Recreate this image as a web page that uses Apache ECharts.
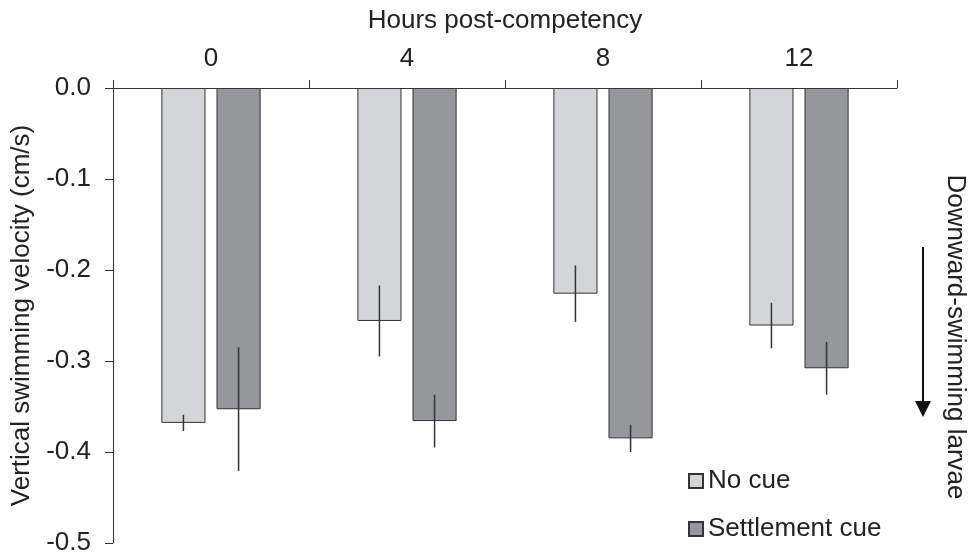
<!DOCTYPE html>
<html>
<head>
<meta charset="utf-8">
<script src="https://cdn.jsdelivr.net/npm/echarts@6/dist/echarts.min.js"></script>
<style>html,body{margin:0;padding:0;background:#fff}#c{width:974px;height:559px}</style>
</head>
<body>
<div id="c"></div>
<script>
var categories = ['0', '4', '8', '12'];
var noCue = [-0.368, -0.256, -0.226, -0.261];
var noCueErr = [0.009, 0.039, 0.031, 0.025];
var settle = [-0.353, -0.366, -0.385, -0.308];
var settleErr = [0.068, 0.029, 0.015, 0.029];
var yTicks = [0, -0.1, -0.2, -0.3, -0.4, -0.5];
var sideNote = 'Downward-swimming larvae';

var BAR_W = 0.225, GAP = 0.25;
var FONT = 'Liberation Sans, Arial, sans-serif';
var TXT = '#222';

function errData(vals, errs) {
  return vals.map(function (v, i) { return [i, v, errs[i]]; });
}
function errSeries(name, vals, errs, sign) {
  return {
    type: 'custom', name: name + ' err', silent: true, z: 5,
    data: errData(vals, errs),
    encode: { x: 0, y: 1 },
    renderItem: function (params, api) {
      var x = api.value(0), v = api.value(1), e = api.value(2);
      var band = api.size([1, 0])[0];
      var off = sign * band * BAR_W * (1 + GAP) / 2;
      var p1 = api.coord([x, v + e]);
      var p2 = api.coord([x, v - e]);
      return {
        type: 'line',
        shape: { x1: p1[0] + off, y1: p1[1], x2: p2[0] + off, y2: p2[1] },
        style: { stroke: '#333', lineWidth: 1.5 }
      };
    }
  };
}

var chart = echarts.init(document.getElementById('c'));
chart.setOption({
  animation: false,
  backgroundColor: '#fff',
  textStyle: { fontFamily: FONT, color: TXT },
  grid: { left: 113, right: 77, top: 88, bottom: 16, containLabel: false, outerBoundsMode: 'none' },
  legend: {
    orient: 'vertical', left: 683, top: 463,
    itemWidth: 14, itemHeight: 14, itemGap: 22,
    icon: 'rect',
    data: ['No cue', 'Settlement cue'],
    textStyle: { fontSize: 26, color: TXT, fontFamily: FONT, lineHeight: 26 }
  },
  xAxis: {
    type: 'category', data: categories, position: 'top',
    name: 'Hours post-competency', nameLocation: 'middle', nameGap: 54,
    nameTextStyle: { fontSize: 26, color: TXT, fontFamily: FONT },
    axisLine: { onZero: false, lineStyle: { color: '#333', width: 1 } },
    axisTick: { show: true, alignWithLabel: false, inside: false, length: 8, lineStyle: { color: '#333' } },
    axisLabel: { fontSize: 26, color: TXT, margin: 16, fontFamily: FONT },
    splitLine: { show: false }
  },
  yAxis: {
    type: 'value', min: -0.5, max: 0, interval: 0.1,
    name: 'Vertical swimming velocity (cm/s)', nameLocation: 'middle', nameGap: 70,
    nameTextStyle: { fontSize: 26, color: TXT, fontFamily: FONT },
    axisLine: { show: true, lineStyle: { color: '#333', width: 1 } },
    axisTick: { show: true, inside: false, length: 8, lineStyle: { color: '#333' } },
    axisLabel: {
      fontSize: 26, color: TXT, margin: 22, fontFamily: FONT,
      formatter: function (v) { return v.toFixed(1); }
    },
    splitLine: { show: false }
  },
  series: [{
    type: 'bar', name: 'No cue', data: noCue,
    barWidth: (BAR_W * 100) + '%', barGap: (GAP * 100) + '%',
    itemStyle: { color: '#d4d5d7', borderColor: '#333', borderWidth: 1 }
  }, {
    type: 'bar', name: 'Settlement cue', data: settle,
    barWidth: (BAR_W * 100) + '%', barGap: (GAP * 100) + '%',
    itemStyle: { color: '#96979a', borderColor: '#333', borderWidth: 1 }
  },
  errSeries('No cue', noCue, noCueErr, -1),
  errSeries('Settlement cue', settle, settleErr, 1)
  ],
  graphic: [{
    type: 'text', x: 955, y: 337, rotation: -Math.PI / 2,
    style: { text: sideNote, fontSize: 26, fontFamily: FONT, fill: TXT, align: 'center', verticalAlign: 'middle' }
  }, {
    type: 'line', shape: { x1: 923, y1: 247, x2: 923, y2: 404 },
    style: { stroke: '#111', lineWidth: 2 }
  }, {
    type: 'polygon', shape: { points: [[915, 401], [931, 401], [923, 417]] },
    style: { fill: '#111' }
  }]
});
</script>
</body>
</html>
